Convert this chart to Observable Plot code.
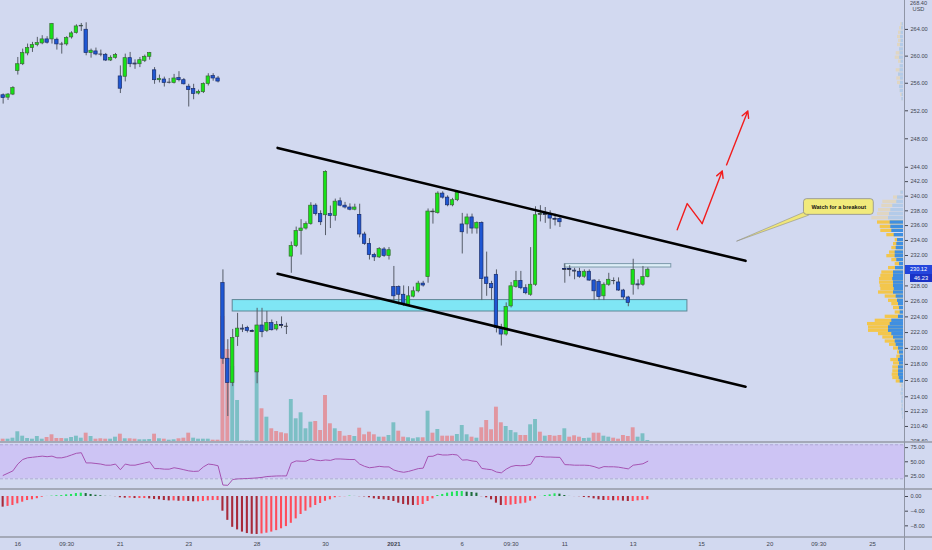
<!DOCTYPE html>
<html><head><meta charset="utf-8">
<script src="https://cdn.jsdelivr.net/npm/d3@7"></script>
<script src="https://cdn.jsdelivr.net/npm/@observablehq/plot@0.6"></script>
<style>
html,body{margin:0;padding:0;background:#d2d9f0;}
#chart{position:relative;width:932px;height:550px;overflow:hidden;background:#d2d9f0;font-family:"Liberation Sans",Arial,sans-serif;}
#chart svg{position:absolute;left:0;}
.sep{position:absolute;left:0;width:932px;height:2px;background:#a4a9b8;}
.vline{position:absolute;top:0;left:904px;width:1px;height:550px;background:#8f95a5;}
.plab{position:absolute;left:905px;width:27px;color:#fff;font-size:5.6px;line-height:9px;text-align:center;}
.toplab{position:absolute;left:905px;width:27px;text-align:center;font-size:5.6px;line-height:6px;color:#434651;}
</style></head><body><div id="chart"></div>
<script>
// ---------- data: hourly candles (bar index = position) ----------
const open = [254.25,253.9,254.35,257.8,258.8,260.4,261.2,261.65,261.9,262.5,262.5,262.45,261.8,261.75,262.8,263.45,264.5,263.95,260.45,260.7,260.3,260.2,259.35,259.75,257.0,256.95,259.7,258.9,258.8,259.3,259.9,257.9,256.45,256.55,256.15,256.05,256.75,256.45,255.5,255.15,254.5,254.7,255.9,257.05,256.7,
228.37,218.7,215.7,221.45,222.5,222.6,222.2,217.0,222.9,222.2,223.2,222.4,222.95,222.8,231.85,233.25,235.25,235.6,236.2,238.7,237.55,237.4,237.55,237.3,239.3,238.7,238.45,238.15,237.45,234.8,233.55,232.05,231.75,232.8,231.95,
227.85,227.85,226.85,225.55,226.6,227.3,228.3,229.15,237.8,237.7,240.35,239.8,238.75,239.45,236.15,236.15,237.1,235.6,236.35,229.1,228.25,229.45,222.6,221.75,225.35,227.85,228.65,227.7,226.85,228.15,237.5,237.55,237.55,236.9,236.9,
230.2,230.2,230.0,229.85,229.2,229.85,228.7,228.5,226.65,228.15,228.7,228.45,227.4,226.5,228.15,228.2,228.15,229.15];
const high = [254.45,254.5,255.5,259.8,261.05,261.8,262.05,262.8,263.05,262.9,264.9,262.7,262.05,262.9,263.65,264.7,264.9,265.0,261.05,261.2,260.9,260.4,260.05,260.4,258.55,260.3,260.55,259.45,259.8,260.15,260.55,258.3,257.2,256.9,256.7,257.3,257.7,256.7,255.85,255.85,255.0,256.05,257.4,257.4,257.0,
230.1,221.1,222.4,224.45,223.0,222.8,222.35,225.1,225.1,224.7,223.6,223.4,224.0,223.2,233.8,235.8,236.8,236.5,239.1,238.95,238.0,243.5,238.65,239.6,239.75,239.15,238.95,238.9,238.9,235.1,234.25,232.3,233.05,233.05,233.05,
230.55,228.0,228.0,227.9,227.85,228.6,228.6,238.25,238.25,240.6,240.6,240.05,239.7,240.7,237.65,237.55,237.55,236.5,236.5,232.45,228.6,230.1,223.05,225.8,228.45,229.9,229.9,228.15,233.05,238.55,238.7,238.45,238.0,237.55,237.1,
230.85,230.65,230.3,230.3,230.1,230.1,228.8,228.8,228.4,229.65,229.05,229.05,227.55,226.65,231.5,228.8,230.55,230.35];
const low = [252.97,253.5,254.2,257.2,258.6,260.05,260.55,261.4,261.7,261.8,261.8,260.9,260.3,261.5,262.55,263.3,263.7,260.05,259.7,260.05,259.9,259.2,259.2,259.55,254.5,256.2,258.3,258.05,258.3,259.05,259.4,255.85,256.05,255.45,255.9,255.9,256.2,255.75,252.55,253.6,254.3,254.5,255.6,256.3,256.05,
218.0,211.6,215.25,220.25,222.0,221.95,222.0,215.6,221.35,222.0,222.2,222.2,222.5,221.75,229.65,233.05,232.05,235.4,236.05,237.3,236.0,234.65,235.6,236.6,238.55,238.25,238.0,238.0,234.35,233.35,231.4,231.2,231.6,231.75,231.4,
225.8,225.55,225.35,225.35,226.45,227.1,227.85,228.35,236.2,237.55,239.6,238.55,238.55,239.25,232.2,234.85,234.85,234.85,226.1,226.65,226.1,221.95,220.3,221.55,225.15,227.7,227.5,226.85,226.65,227.95,236.5,236.3,235.5,235.95,235.75,
228.35,229.2,228.8,229.0,229.0,228.6,226.1,226.1,226.1,227.95,228.15,227.3,226.2,225.3,226.8,227.5,227.95,229.05];
const close = [253.85,254.35,255.3,258.8,260.45,261.2,261.65,261.95,262.5,262.0,264.8,261.75,261.8,262.7,263.4,264.45,264.55,260.45,260.8,260.25,260.3,259.35,259.75,260.15,255.2,259.7,258.8,258.85,259.4,259.9,260.45,256.45,256.65,256.05,256.15,256.7,256.45,255.85,255.0,254.45,254.75,255.9,257.0,256.7,256.25,
218.7,215.7,221.3,222.5,222.45,222.2,222.15,222.9,222.05,223.2,222.3,222.95,222.9,222.8,233.25,235.25,235.6,236.2,238.7,237.55,236.45,243.35,237.3,239.25,238.7,238.45,238.15,238.45,234.8,233.55,232.05,231.75,232.85,231.95,232.7,
226.65,226.85,225.7,226.65,227.3,228.3,228.05,237.9,237.9,240.35,239.8,238.75,239.45,240.5,235.1,237.1,235.6,236.35,228.9,228.25,227.7,222.6,221.75,225.25,227.95,228.65,227.7,227.05,228.15,237.4,237.55,237.5,236.95,236.85,236.45,
230.15,230.15,229.95,229.2,229.85,228.7,227.3,226.55,228.15,228.8,228.7,227.4,226.5,225.8,230.1,228.15,229.15,230.12];
const volume = [2.3,2.3,3.3,9.7,5.3,3,2.3,5,2.3,4,6.7,3,3,2.7,4,5.3,3.3,8.3,5,2.3,2.7,2.3,2.3,4.3,7.3,2.7,2.7,2.3,1.7,1.7,2,7.3,2.7,2.3,1.3,1.7,2.7,3.3,8.3,3.3,2.3,2.3,2.3,1.3,1.3,
125,92,75,41,0.5,0.5,0.5,70,32.7,24.3,12.7,10,8.7,7.7,42,22.7,28.7,12.7,19.3,20,11,46,17.7,12.7,10,5.3,6,5,13.3,6.7,9.3,6.7,4.3,4.3,6,
18.7,10.3,4.3,3.7,2.7,3.7,3.7,30.3,8.3,12,5.3,5.3,5.3,7,16,6.7,4.3,3.3,13.7,21,11.7,34.3,18.7,15,11,8.7,6,6,16.7,22,9.3,5.3,6,5.3,6,
12.7,4.3,5.7,4.3,3,3.3,8.3,8.3,5.3,4.3,3.3,2.3,6,5,13.7,4.3,7.7,1];
const volumeUp = [0,1,1,1,1,1,1,1,1,0,0,0,0,1,1,1,1,0,1,0,0,0,1,1,0,1,0,0,1,1,1,0,1,0,1,1,0,0,0,1,1,1,1,0,0,
0,0,1,1,1,1,1,1,0,1,0,0,0,0,1,1,1,1,1,0,0,0,0,1,0,0,0,1,0,0,0,0,1,0,1,
1,0,0,1,1,1,0,1,0,1,0,0,0,1,1,1,0,1,0,0,0,0,0,1,1,1,0,0,1,1,0,1,0,0,0,
1,0,0,0,1,1,0,0,1,1,0,0,0,0,0,1,1,1];
const rsi = [26,30,34,46,54,57,58,59,60,59,60,57,57,59,62,65,66,48,48,47,46,44,44,46,36,46,44,44,46,48,50,38,38,37,37,39.5,38,36,34,33,33.5,41,46,45,43,
9,8.5,18.8,19.8,20.2,20.5,21,21.6,22.5,24,24.5,25,25.1,25.1,48,51.5,51,51,55,53,
52,53.2,52.5,55,55,54.5,54,54,46,42,39.5,40.5,42,41,41,35.5,33,31.5,33,35.5,38,38.8,59.5,59.8,63.5,62,62,63,62,53,53.5,51.5,50.5,38.3,37,36,32,30.5,37,41.7,43.5,43,43.5,45.5,59,59.5,58.4,58.4,58,57.8,
45,44.7,44,44,44,43.5,41.5,38.5,41.5,41.2,41.2,40.5,39,37.5,44,45.2,46.5,51];
const macdHist = [-2.9,-2.7,-2.45,-2.0,-1.55,-1.1,-0.9,-0.6,-0.2,0.02,0.1,0.2,0.25,0.45,0.55,0.8,0.9,0.8,0.55,0.35,0.2,0.05,0.02,-0.05,-0.35,-0.45,-0.45,-0.55,-0.55,-0.55,-0.65,-0.8,-0.9,-1.1,-1.2,-1.2,-1.3,-1.3,-1.35,-1.45,-1.45,-1.35,-1.2,-1.1,-1.1,
-4.0,-6.5,-8.4,-9.1,-9.7,-10.1,-10.3,-10.35,-10.2,-10.0,-9.7,-9.3,-8.8,-8.2,-7.3,-6.1,-4.9,-4.0,-3.1,-2.45,
-1.9,-1.3,-0.9,-0.35,-0.1,-0.05,0.1,0.02,-0.05,-0.1,-0.35,-0.64,-0.82,-0.91,-1.09,-1.36,-1.82,-2.18,-2.36,-2.45,-2.45,-2.18,-1.36,-0.64,0.27,0.55,0.91,1.18,1.36,1.36,1.18,1.09,0.91,-0.05,-0.36,-0.91,-1.82,-2.45,-2.45,-2.36,-2.18,-2.0,-1.82,-1.27,-0.64,0.02,0.27,0.45,0.73,0.64,
0.27,0.02,-0.02,-0.05,-0.27,-0.36,-0.64,-0.91,-1.09,-1.09,-1.18,-1.18,-1.27,-1.36,-1.36,-1.18,-1.09,-0.91];

// axis ticks
const xTickIndex = [3,13,24,38,52,66,80,94,104,115,129,143,157,167,178];
const xTickLabel = ["16","09:30","21","23","28","30","2021","6","09:30","11","13","15","20","09:30","25"];
const priceTicks = [264,260,256,252,248,244,242,240,238,236,234,232,228,226,224,222,220,218,216,214,212.2,210.4,208.6];
const rsiTicks = [75,50,25];
const macdTicks = [0,-4,-8];

// volume profile (price row, total volume, inner/sell part)
const vpPrice = [264.77,264.17,263.5,262.86,262.26,261.65,261.0,260.42,259.77,259.18,258.5,257.9,257.26,256.7,256.05,255.47,254.88,254.3,253.68,
240.49,239.81,239.22,238.67,238.09,237.55,237.0,236.41,235.83,235.29,234.71,234.04,233.51,232.98,232.39,231.91,231.39,230.86,230.33,229.75,229.32,228.89,228.44,228.01,227.59,227.14,226.62,226.07,225.64,225.13,224.56,224.01,223.5,223.08,222.65,222.23,221.81,221.38,220.87,220.46,219.99,219.49,218.96,218.54,218.12,217.62,217.13,216.72,216.31,215.89,215.36,214.87,214.38,213.89,213.4,212.92,212.44,211.96,211.48];
const vpTotal = [2.7,4,5,6,5,6,4,7.3,8.3,5,3.3,7.3,5,6.7,6,4,3.3,2.7,1.7,
2.7,10,20.7,21.7,25,26,31.7,26,23.3,22.7,16.7,8.3,10,11.7,14,16.7,11.7,8.3,15,21.7,22.7,24,24,23.3,22.7,25,18.3,15,11.7,10,8.3,18.3,28.3,36,35,35,25,20.7,18.3,14,10,6,6.7,12.7,10,10.7,10.7,11.3,10.7,7.3,3.3,2,2.5,1.5,2,1.5,2,1.3,1];
const vpInner = [1.5,2,2.5,3,2.5,3,4,3.5,4,2.5,3.3,3.5,5,3,3,4,3.3,1.5,1.7,
2.7,6,6.7,10.7,12.7,14,15,13.3,12.7,11.7,9.3,6,6.7,7.3,8.3,8.3,6.7,4,8,10,10,10.7,10,10,9.3,10,7.3,6,5,4,3.3,5,11.7,13.3,15,15,11.7,10,8.3,7.3,5,4,3.3,5,4,5,5,5,4.3,3.3,1.7,2,2.5,1.5,2,1.5,2,1.3,1];
const valueArea = [215.6, 236.7];

const lastPrice = 230.12;
const secondTag = "46.23";

// drawings (bar index, price)
const channelUpper = [[56.2,246.71],[152.0,231.29]];
const channelLower = [[56.2,229.58],[152.0,215.23]];
const supportZone = {x1:47.0, x2:140.1, y1:224.69, y2:226.16};
const rangeBox = {x1:115.0, x2:136.8, y1:230.41, y2:230.86};
const zigzag = [[138.01,235.43],[140.06,238.99],[143.13,236.27]];
const arrows = [{x1:143.13,y1:236.27,x2:147.23,y2:243.49},{x1:148.11,y1:244.33,x2:152.47,y2:251.98}];
const callout = {x1:163.97, x2:178.26, y1:237.45, y2:239.59, tx:171.1, ty:238.5, text:"Watch for a breakout"};
const calloutPointer = [[164.28,237.9],[164.95,237.41],[150.15,233.9],[164.28,237.9]];

// ---------- build ----------
const W = 932, PR = 28;
const xDomain = [-0.543, 184.55];
const priceDomain = [208.6, 268.4];
const FONT = "Liberation Sans, Arial, sans-serif";
const chart = document.getElementById("chart");
const candles = open.map((o,i)=>({i, open:o, high:high[i], low:low[i], close:close[i]}));
const vols = volume.map((v,i)=>({i, v, up: volumeUp[i]===1}));
const rsiData = rsi.map((v,i)=>({i, v}));
const macdData = macdHist.map((v,i)=>({i, v, prev: i>0 ? macdHist[i-1] : v+0.1}));
const vpRows = vpPrice.map((p,k)=>({p, total:vpTotal[k], inner:vpInner[k], faded: p>valueArea[1] || p<valueArea[0]}));
const GREEN="#16e316", BLUE="#1f57d3";
const baseStyle = {background:"transparent", fontFamily:FONT, fontSize:"5.6px", color:"#434651", overflow:"visible"};

function place(svg, top){ svg.style.top = top+"px"; chart.appendChild(svg); return svg; }

// volume overlay
place(Plot.plot({
  width:W, height:441, marginLeft:0, marginRight:PR, marginTop:0, marginBottom:0, style:baseStyle,
  x:{type:"linear", domain:xDomain, axis:null},
  y:{domain:[0,441], axis:null},
  marks:[
    Plot.rect(vols, {x1:d=>d.i-0.5, x2:d=>d.i+0.5, y1:0, y2:"v", insetLeft:0.5, insetRight:0.5,
      fill:d=>d.up?"#26a69a":"#ef5350", fillOpacity:0.5})
  ]
}), 0);

// volume profile overlay
const ROW = 0.00094;
place(Plot.plot({
  width:W, height:441, marginLeft:0, marginRight:PR, marginTop:0, marginBottom:0, style:baseStyle,
  x:{domain:[0,100], range:[903,803], axis:null},
  y:{type:"log", domain:priceDomain, axis:null},
  marks:[
    Plot.rect(vpRows, {x1:0, x2:"total", y1:d=>d.p*Math.exp(-ROW), y2:d=>d.p*Math.exp(ROW), fill:d=>d.faded?"#e0d6c2":"#f3c64c"}),
    Plot.rect(vpRows, {x1:0, x2:"inner", y1:d=>d.p*Math.exp(-ROW), y2:d=>d.p*Math.exp(ROW), fill:d=>d.faded?"#b3cbe9":"#3f8fe2"})
  ]
}), 0);

// main price pane
const dojis = candles.filter(d=>Math.abs(d.open-d.close)<0.12);
const main = place(Plot.plot({
  width:W, height:441, marginLeft:0, marginRight:PR, marginTop:0, marginBottom:0, style:baseStyle,
  x:{type:"linear", domain:xDomain, axis:null},
  y:{type:"log", domain:priceDomain, axis:"right", ticks:priceTicks, tickFormat:d=>d.toFixed(2), tickSize:3, tickPadding:3, label:null},
  marks:[
    Plot.rect([supportZone], {x1:"x1", x2:"x2", y1:"y1", y2:"y2", fill:"#7fe6f5", stroke:"#5f8796", strokeWidth:1}),
    Plot.rect([rangeBox], {x1:"x1", x2:"x2", y1:"y1", y2:"y2", fill:"#dceef6", stroke:"#7d9aab", strokeWidth:1}),
    Plot.ruleX(candles, {x:"i", y1:"low", y2:"high", stroke:"#565c68", strokeWidth:1}),
    Plot.rect(candles, {x1:d=>d.i-0.5, x2:d=>d.i+0.5, y1:"open", y2:"close", insetLeft:0.75, insetRight:0.75,
      fill:d=>d.close>=d.open?GREEN:BLUE, stroke:d=>d.close>=d.open?"#3b6a36":"#1a2d6c", strokeWidth:0.7}),
    Plot.ruleY(dojis, {y:"close", x1:d=>d.i-0.4, x2:d=>d.i+0.4, stroke:"#3a3f4a", strokeWidth:1}),
    Plot.line(channelUpper, {x:d=>d[0], y:d=>d[1], stroke:"#000", strokeWidth:2.6}),
    Plot.line(channelLower, {x:d=>d[0], y:d=>d[1], stroke:"#000", strokeWidth:2.6}),
    Plot.line(zigzag, {x:d=>d[0], y:d=>d[1], stroke:"#f21d1d", strokeWidth:1.4}),
    Plot.arrow(arrows, {x1:"x1", y1:"y1", x2:"x2", y2:"y2", stroke:"#f21d1d", strokeWidth:1.4, headLength:8, headAngle:55}),
    Plot.line(calloutPointer, {x:d=>d[0], y:d=>d[1], fill:"#efe67a", stroke:"#8e8e86", strokeWidth:0.6}),
    Plot.rect([callout], {x1:"x1", x2:"x2", y1:"y1", y2:"y2", fill:"#f1ea7c", stroke:"#8e8e86", strokeWidth:0.8, rx:3}),
    Plot.text([callout], {x:"tx", y:"ty", text:"text", fill:"#111", fontWeight:"bold", fontSize:5.5, fontFamily:FONT})
  ]
}), 0);

// RSI pane
place(Plot.plot({
  width:W, height:47, marginLeft:0, marginRight:PR, marginTop:0, marginBottom:0, style:baseStyle,
  x:{type:"linear", domain:xDomain, axis:null},
  y:{domain:[2.9,85.8], axis:"right", ticks:rsiTicks, tickFormat:d3.format(".2f"), tickSize:3, tickPadding:3, label:null},
  marks:[
    Plot.rect([{a:20,b:80}], {x1:xDomain[0], x2:xDomain[1], y1:"a", y2:"b", fill:"#cdc4f4"}),
    Plot.ruleY([20,80], {stroke:"#a59fce", strokeDasharray:"3,2", strokeWidth:0.8}),
    Plot.line(rsiData, {x:"i", y:"v", stroke:"#a553b2", strokeWidth:1})
  ]
}), 441);

// MACD pane + time axis
const macdSvg = place(Plot.plot({
  width:W, height:62, marginLeft:0, marginRight:PR, marginTop:0, marginBottom:14, style:Object.assign({}, baseStyle, {fontSize:"6px"}),
  x:{type:"linear", domain:xDomain, ticks:xTickIndex, tickFormat:d=>xTickLabel[xTickIndex.indexOf(d)], tickSize:2, tickPadding:3, label:null},
  y:{domain:[-10.9,2.18], axis:"right", ticks:macdTicks, tickFormat:d3.format(".2f"), tickSize:3, tickPadding:3, label:null},
  marks:[
    Plot.rect(macdData, {x1:d=>d.i-0.5, x2:d=>d.i+0.5, y1:0, y2:"v", insetLeft:1.4, insetRight:1.4,
      fill:d=> d.v>=0 ? (d.v>=d.prev?"#22e35c":"#1e6d3c") : (d.v<d.prev?"#a82a3a":"#ff4b5a")})
  ]
}), 488);
macdSvg.querySelectorAll("text").forEach(t=>{ if(t.textContent==="2021") t.style.fontWeight="bold"; });
macdSvg.querySelectorAll("g[aria-label='y-axis tick label']").forEach(g=>g.setAttribute("font-size","5.6"));

// separators and axis line
[440.5,487.5,535.5].forEach(t=>{ const d=document.createElement("div"); d.className="sep"; d.style.top=t+"px"; chart.appendChild(d); });
const vl=document.createElement("div"); vl.className="vline"; chart.appendChild(vl);

// price tags
const ys = d3.scaleLog().domain(priceDomain).range([441,0]);
const py = ys(lastPrice);
const t1=document.createElement("div"); t1.className="plab"; t1.style.top=(py-4.5)+"px"; t1.style.height="9px"; t1.style.background="#2446dc"; t1.textContent=lastPrice.toFixed(2); chart.appendChild(t1);
const t2=document.createElement("div"); t2.className="plab"; t2.style.top=(py+4.7)+"px"; t2.style.left="910px"; t2.style.width="22px"; t2.style.height="8px"; t2.style.lineHeight="8px"; t2.style.background="#1b32c6"; t2.textContent=secondTag; chart.appendChild(t2);
const u1=document.createElement("div"); u1.className="toplab"; u1.style.top="0px"; u1.textContent=priceDomain[1].toFixed(2); chart.appendChild(u1);
const u2=document.createElement("div"); u2.className="toplab"; u2.style.top="6px"; u2.textContent="USD"; chart.appendChild(u2);
</script></body></html>
